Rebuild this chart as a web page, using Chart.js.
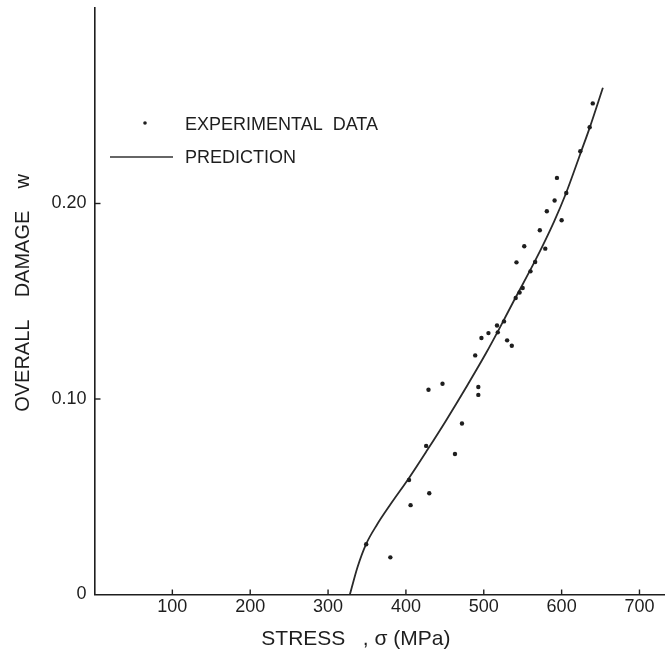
<!DOCTYPE html>
<html>
<head>
<meta charset="utf-8">
<style>
  html, body { margin: 0; padding: 0; background: #fff; }
  #wrap { position: relative; width: 668px; height: 658px; }
</style>
<script src="https://cdn.jsdelivr.net/npm/chart.js@4.4.0/dist/chart.umd.min.js"></script>
</head>
<body>
<div id="wrap"><canvas id="c" width="668" height="658"></canvas></div>
<script>
// Experimental data (stress in MPa, overall damage w)
const expStress = [349, 380, 404, 406, 426, 430, 429, 447, 463, 472, 489, 493, 493, 497, 506, 517, 518, 526, 530, 536, 541, 542, 546, 550, 552, 560, 566, 572, 579, 581, 591, 594, 600, 606, 624, 636, 640];
const expDamage = [0.0257, 0.0190, 0.0586, 0.0457, 0.0760, 0.0518, 0.1047, 0.1078, 0.0719, 0.0875, 0.1223, 0.1061, 0.1021, 0.1312, 0.1337, 0.1376, 0.1341, 0.1397, 0.1300, 0.1272, 0.1517, 0.1699, 0.1545, 0.1568, 0.1781, 0.1653, 0.1701, 0.1863, 0.1769, 0.1960, 0.2015, 0.2131, 0.1914, 0.2054, 0.2267, 0.2390, 0.2512];

// Prediction curve
const predStress = [328, 338, 349, 363, 380, 404, 427, 452, 478, 503, 520, 539, 567, 590, 605, 625, 636, 653];
const predDamage = [0, 0.0142, 0.0259, 0.0358, 0.0460, 0.0596, 0.0736, 0.0893, 0.1064, 0.1235, 0.1360, 0.1505, 0.1715, 0.1905, 0.2046, 0.2265, 0.2387, 0.2592];

// Axis ticks
const xTicks = [0, 100, 200, 300, 400, 500, 600, 700];
const xTickLabels = [null, '100', '200', '300', '400', '500', '600', '700'];
const yTicks = [0, 0.10, 0.20, 0.30];
const yTickLabels = ['0', '0.10', '0.20', null];

const legendLabels = ['EXPERIMENTAL  DATA', 'PREDICTION'];
const xTitle = 'STRESS   , σ (MPa)' + '        ';
const yTitle = '   ' + 'OVERALL    DAMAGE    w';

const FONT = '"Liberation Sans", Arial, Helvetica, sans-serif';
const INK = '#1e1e1e';

const expPoints = expStress.map((x, i) => ({x, y: expDamage[i]}));
const predPoints = predStress.map((x, i) => ({x, y: predDamage[i]}));

const extras = {
  id: 'extras',
  afterDraw(chart) {
    const ctx = chart.ctx;
    const xs = chart.scales.x, ys = chart.scales.y;
    const area = chart.chartArea;
    ctx.save();
    ctx.strokeStyle = INK;
    ctx.lineWidth = 1.4;
    // inward tick marks
    xTicks.forEach(v => {
      if (v === 0) return;
      const px = xs.getPixelForValue(v);
      ctx.beginPath(); ctx.moveTo(px, area.bottom); ctx.lineTo(px, area.bottom - 5); ctx.stroke();
    });
    yTicks.forEach(v => {
      if (v === 0 || v === 0.30) return;
      const py = ys.getPixelForValue(v);
      ctx.beginPath(); ctx.moveTo(area.left, py); ctx.lineTo(area.left + 6, py); ctx.stroke();
    });
    // legend
    ctx.fillStyle = INK;
    ctx.font = '18px ' + FONT;
    ctx.textBaseline = 'middle';
    ctx.textAlign = 'left';
    ctx.beginPath(); ctx.arc(145, 123, 1.8, 0, Math.PI * 2); ctx.fill();
    ctx.fillText(legendLabels[0], 185, 125);
    ctx.lineWidth = 1.6;
    ctx.strokeStyle = '#333';
    ctx.beginPath(); ctx.moveTo(110, 157); ctx.lineTo(173, 157); ctx.stroke();
    ctx.fillText(legendLabels[1], 185, 158);
    ctx.restore();
  }
};

new Chart(document.getElementById('c'), {
  type: 'scatter',
  data: {
    datasets: [
      {
        label: 'EXPERIMENTAL DATA',
        data: expPoints,
        showLine: false,
        pointRadius: 2.2,
        pointBackgroundColor: INK,
        pointBorderWidth: 0,
        pointBorderColor: INK
      },
      {
        label: 'PREDICTION',
        data: predPoints,
        showLine: true,
        borderColor: '#2a2a2a',
        borderWidth: 1.8,
        pointRadius: 0,
        cubicInterpolationMode: 'monotone',
        fill: false
      }
    ]
  },
  options: {
    responsive: false,
    animation: false,
    devicePixelRatio: 1,
    layout: { padding: { top: 8, right: 0, bottom: 0, left: 0 } },
    plugins: { legend: { display: false }, tooltip: { enabled: false } },
    scales: {
      x: {
        type: 'linear',
        min: 0,
        max: 731.5,
        afterBuildTicks: s => { s.ticks = xTicks.map(v => ({value: v})); },
        afterFit: s => { s.height = 63.5; s.paddingLeft = 0; s.paddingRight = 0; },
        grid: { display: true, drawOnChartArea: false, drawTicks: false },
        border: { display: true, color: INK, width: 1.6 },
        ticks: {
          padding: 2,
          color: INK,
          font: { family: FONT, size: 18 },
          callback: (v) => { const i = xTicks.indexOf(v); return i >= 0 ? xTickLabels[i] : null; }
        },
        title: {
          display: true,
          text: xTitle,
          color: INK,
          font: { family: FONT, size: 21 },
          padding: { top: 0, bottom: 6 }
        }
      },
      y: {
        type: 'linear',
        min: 0,
        max: 0.30,
        afterBuildTicks: s => { s.ticks = yTicks.map(v => ({value: v})); },
        afterFit: s => { s.width = 94.5; s.paddingTop = 0; s.paddingBottom = 0; },
        grid: { display: true, drawOnChartArea: false, drawTicks: false },
        border: { display: true, color: INK, width: 1.6 },
        ticks: {
          padding: 8,
          color: INK,
          font: { family: FONT, size: 18 },
          callback: (v) => { const i = yTicks.findIndex(t => Math.abs(t - v) < 1e-9); return i >= 0 ? yTickLabels[i] : null; }
        },
        title: {
          display: true,
          text: yTitle,
          color: INK,
          font: { family: FONT, size: 20 },
          padding: { top: 11, bottom: 0 }
        }
      }
    }
  },
  plugins: [extras]
});
</script>
</body>
</html>
